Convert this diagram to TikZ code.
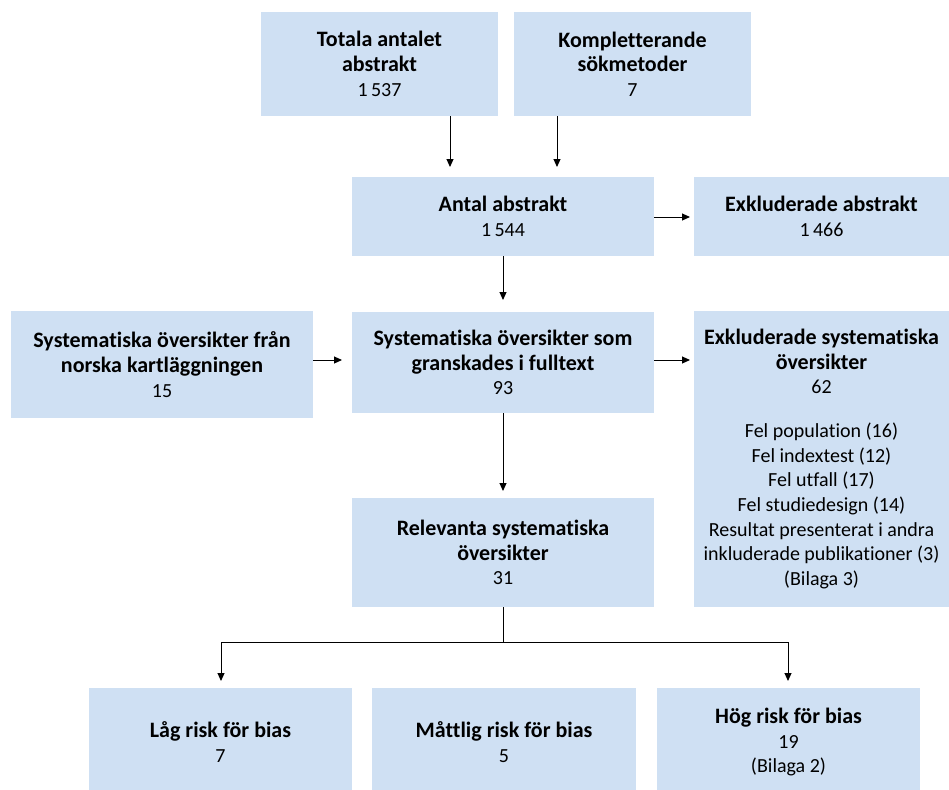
\documentclass[tikz,border=0pt]{standalone}
\usepackage{fontspec}
\setmainfont[RawFeature=-liga]{Carlito}
\usetikzlibrary{arrows.meta}
\definecolor{boxblue}{RGB}{207,224,243}
\newcommand{\hb}[1]{{\fontsize{22bp}{24.7bp}\selectfont\bfseries #1}}
\begin{document}
\begin{tikzpicture}[x=1bp,y=-1bp,
 box/.style={fill=boxblue, draw=none, align=center, inner sep=0pt, font=\fontsize{20bp}{24.7bp}\selectfont},
 arr/.style={-{Triangle[length=8bp,width=7bp]}, line width=1bp},
 ln/.style={line width=1bp}]
\useasboundingbox (0,0) rectangle (949,790);
\node[box, minimum width=237bp, minimum height=104bp] (b1) at (379.5,64) {\hb{Totala antalet}\\\hb{abstrakt}\\1\,537};
\node[box, minimum width=237bp, minimum height=104bp] (b2) at (632.5,64) {\hb{Kompletterande}\\\hb{sökmetoder}\\7};
\node[box, minimum width=302bp, minimum height=79bp] (b3) at (503,216.5) {\hb{Antal abstrakt}\\1\,544};
\node[box, minimum width=255bp, minimum height=79bp] (b4) at (821.5,216.5) {\hb{Exkluderade abstrakt}\\1\,466};
\node[box, minimum width=302bp, minimum height=107bp] (b5) at (162,364.5) {\hb{Systematiska översikter från}\\\hb{norska kartläggningen}\\15};
\node[box, minimum width=302bp, minimum height=101bp] (b6) at (503,362.5) {\hb{Systematiska översikter som}\\\hb{granskades i fulltext}\\93};
\node[box, minimum width=255bp, minimum height=296bp] (b7) at (821.5,459) {\hb{Exkluderade systematiska}\\\hb{översikter}\\62\\[19bp]Fel population (16)\\Fel indextest (12)\\Fel utfall (17)\\Fel studiedesign (14)\\Resultat presenterat i andra\\inkluderade publikationer (3)\\(Bilaga 3)};
\node[box, minimum width=302bp, minimum height=109bp] (b8) at (503,552.5) {\hb{Relevanta systematiska}\\\hb{översikter}\\31};
\node[box, minimum width=263bp, minimum height=108bp] (b9) at (220.5,742) {\hb{Låg risk för bias}\\7};
\node[box, minimum width=264bp, minimum height=108bp] (b10) at (504,742) {\hb{Måttlig risk för bias}\\5};
\node[box, minimum width=263bp, minimum height=108bp] (b11) at (788.5,742) {\hb{Hög risk för bias}\\19\\(Bilaga 2)};
\coordinate (a1) at (450,167);
\coordinate (a2) at (557,167);
\coordinate (a3) at (690,217);
\coordinate (a4) at (503,300);
\coordinate (a5) at (342,360);
\coordinate (a6) at (690,360);
\coordinate (a7) at (503,491);
\coordinate (j) at (503,642);
\coordinate (l) at (221,642);
\coordinate (r) at (788,642);
\coordinate (lt) at (221,681);
\coordinate (rt) at (788,681);
\draw[arr] (b1.south -| a1) -- (a1);
\draw[arr] (b2.south -| a2) -- (a2);
\draw[arr] (b3.east |- a3) -- (a3);
\draw[arr] (b3.south) -- (a4);
\draw[arr] (b5.east |- a5) -- (a5);
\draw[arr] (b6.east |- a6) -- (a6);
\draw[arr] (b6.south) -- (a7);
\draw[ln] (b8.south) -- (j);
\draw[arr] (j) -- (l) -- (lt);
\draw[arr] (j) -- (r) -- (rt);
\end{tikzpicture}
\end{document}
